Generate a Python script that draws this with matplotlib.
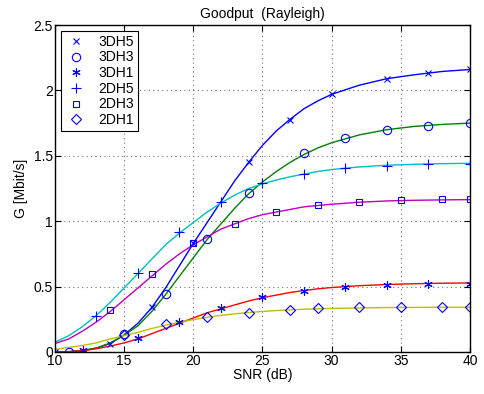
import matplotlib
matplotlib.use("Agg")
from matplotlib import pyplot as plt

plt.rcParams['font.family'] = ['Liberation Sans', 'DejaVu Sans']

# analytic curves, sampled on a common SNR grid
snr = [10, 11, 12, 13, 14, 15, 16, 17, 18, 19, 20, 21, 22, 23, 24, 25,
       26, 27, 28, 29, 30, 32, 34, 36, 38, 40]
dh5_3 = [0.0, 0.002, 0.01, 0.03, 0.065, 0.13, 0.22, 0.34, 0.49, 0.66, 0.83, 0.99,
         1.15, 1.31, 1.45, 1.58, 1.69, 1.78, 1.86, 1.92, 1.97, 2.04, 2.09, 2.12, 2.145, 2.16]
dh3_3 = [0.0, 0.003, 0.012, 0.03, 0.07, 0.13, 0.2, 0.31, 0.44, 0.58, 0.72, 0.86,
         0.98, 1.1, 1.21, 1.30, 1.38, 1.45, 1.51, 1.56, 1.60, 1.66, 1.70, 1.725, 1.74, 1.75]
dh1_3 = [0.0, 0.002, 0.01, 0.025, 0.045, 0.07, 0.1, 0.14, 0.18, 0.22, 0.26, 0.3,
         0.33, 0.36, 0.39, 0.415, 0.435, 0.455, 0.47, 0.483, 0.493, 0.507, 0.516, 0.522, 0.526, 0.528]
dh5_2 = [0.075, 0.125, 0.195, 0.28, 0.38, 0.49, 0.6, 0.71, 0.82, 0.91, 0.99, 1.07,
         1.14, 1.2, 1.25, 1.285, 1.315, 1.34, 1.36, 1.38, 1.395, 1.415, 1.428, 1.435, 1.44, 1.443]
dh3_2 = [0.065, 0.1, 0.16, 0.23, 0.31, 0.4, 0.49, 0.58, 0.67, 0.75, 0.82, 0.88,
         0.94, 0.98, 1.02, 1.05, 1.07, 1.09, 1.11, 1.12, 1.13, 1.145, 1.155, 1.16, 1.163, 1.165]
dh1_2 = [0.02, 0.035, 0.05, 0.07, 0.1, 0.125, 0.15, 0.18, 0.205, 0.228, 0.248, 0.265,
         0.28, 0.292, 0.302, 0.31, 0.317, 0.322, 0.327, 0.33, 0.333, 0.337, 0.34, 0.341, 0.342, 0.342]

# simulated points (markers)
sim_dh5_3_x = [10, 14, 17, 20, 24, 27, 30, 34, 37, 40]
sim_dh5_3_y = [0.0, 0.06, 0.346, 0.83, 1.455, 1.774, 1.97, 2.09, 2.135, 2.16]
sim_dh3_3_x = [11, 15, 18, 21, 24, 28, 31, 34, 37, 40]
sim_dh3_3_y = [0.0, 0.135, 0.443, 0.861, 1.218, 1.519, 1.64, 1.70, 1.73, 1.75]
sim_dh1_3_x = [12, 16, 19, 22, 25, 28, 31, 34, 37, 40]
sim_dh1_3_y = [0.015, 0.108, 0.227, 0.339, 0.423, 0.469, 0.50, 0.512, 0.52, 0.52]
sim_dh5_2_x = [13, 16, 19, 22, 25, 28, 31, 34, 37, 40]
sim_dh5_2_y = [0.275, 0.603, 0.92, 1.149, 1.29, 1.36, 1.41, 1.425, 1.435, 1.44]
sim_dh3_2_x = [14, 17, 20, 23, 26, 29, 32, 35, 38, 40]
sim_dh3_2_y = [0.32, 0.598, 0.83, 0.98, 1.07, 1.124, 1.149, 1.162, 1.167, 1.167]
sim_dh1_2_x = [15, 18, 21, 24, 27, 29, 32, 35, 38, 40]
sim_dh1_2_y = [0.13, 0.214, 0.27, 0.30, 0.324, 0.334, 0.342, 0.342, 0.342, 0.342]

fig = plt.figure(figsize=(4.84, 3.94), dpi=100)
ax = fig.add_axes([0.1136, 0.1066, 0.8574, 0.8299])

ax.plot(snr, dh5_3, color=(0, 0, 1), lw=1)
ax.plot(snr, dh3_3, color=(0, 0.5, 0), lw=1)
ax.plot(snr, dh1_3, color=(1, 0, 0), lw=1)
ax.plot(snr, dh5_2, color=(0, 0.75, 0.75), lw=1)
ax.plot(snr, dh3_2, color=(0.75, 0, 0.75), lw=1)
ax.plot(snr, dh1_2, color=(0.75, 0.75, 0), lw=1)

mk = dict(ls='none', color='b', mfc='none', mew=0.8)
ax.plot(sim_dh5_3_x, sim_dh5_3_y, marker='x', ms=5, label='3DH5', **mk)
ax.plot(sim_dh3_3_x, sim_dh3_3_y, marker='o', ms=6, label='3DH3', **mk)
ax.plot(sim_dh1_3_x, sim_dh1_3_y, marker=(6, 2, 0), ms=6, label='3DH1', **mk)
ax.plot(sim_dh5_2_x, sim_dh5_2_y, marker='+', ms=7, label='2DH5', **mk)
ax.plot(sim_dh3_2_x, sim_dh3_2_y, marker='s', ms=5, label='2DH3', **mk)
ax.plot(sim_dh1_2_x, sim_dh1_2_y, marker='D', ms=5, label='2DH1', **mk)

ax.set_xlim(10, 40)
ax.set_ylim(0, 2.5)
ax.set_xticks([10, 15, 20, 25, 30, 35, 40])
ax.set_yticks([0, 0.5, 1, 1.5, 2, 2.5])
ax.set_yticklabels(['0', '0.5', '1', '1.5', '2', '2.5'])
ax.grid(True, ls=(0, (1, 3)), color='0.45', lw=0.8)
ax.tick_params(direction='in', top=True, right=True, labelsize=10, length=4, pad=1.5)
for s in ax.spines.values():
    s.set_linewidth(1.0)

ax.set_xlabel('SNR (dB)', fontsize=10, labelpad=0)
ax.set_ylabel('G [Mbit/s]', fontsize=10, labelpad=4)
ax.set_title('Goodput  (Rayleigh)', fontsize=10, pad=5)

leg = ax.legend(loc='upper left', fontsize=10, fancybox=False, framealpha=1,
                edgecolor='k', borderaxespad=0.4, handlelength=1.6,
                labelspacing=0.12, handletextpad=0.8, borderpad=0.3)
leg.get_frame().set_linewidth(0.8)

fig.savefig('out.png', dpi=100)
